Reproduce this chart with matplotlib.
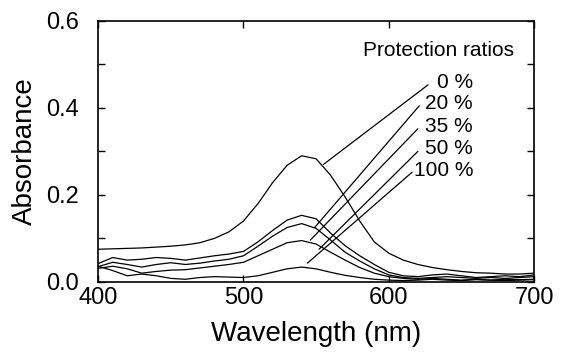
import matplotlib
matplotlib.use("Agg")
import matplotlib.pyplot as plt
from matplotlib.ticker import MultipleLocator, FormatStrFormatter

plt.rcParams['font.family'] = ['Liberation Sans', 'DejaVu Sans']

wavelength = [400, 410, 420, 430, 440, 450, 460, 470, 480, 490,
              500, 510, 520, 530, 540, 550, 560, 570, 580, 590,
              600, 610, 620, 630, 640, 650, 660, 670, 680, 690, 700]

abs_0 = [0.075, 0.076, 0.077, 0.078, 0.080, 0.082, 0.085, 0.090, 0.100, 0.115,
         0.140, 0.180, 0.228, 0.268, 0.290, 0.283, 0.245, 0.195, 0.140, 0.092,
         0.066, 0.050, 0.040, 0.033, 0.028, 0.024, 0.021, 0.020, 0.018, 0.018, 0.020]
abs_20 = [0.042, 0.056, 0.050, 0.052, 0.056, 0.054, 0.050, 0.055, 0.060, 0.064,
          0.070, 0.092, 0.118, 0.142, 0.153, 0.145, 0.112, 0.083, 0.060, 0.040,
          0.022, 0.014, 0.012, 0.016, 0.018, 0.014, 0.010, 0.012, 0.014, 0.012, 0.016]
abs_35 = [0.035, 0.045, 0.040, 0.034, 0.040, 0.044, 0.040, 0.043, 0.048, 0.052,
          0.060, 0.082, 0.105, 0.125, 0.134, 0.123, 0.096, 0.068, 0.048, 0.030,
          0.016, 0.010, 0.008, 0.010, 0.012, 0.010, 0.008, 0.010, 0.008, 0.010, 0.012]
abs_50 = [0.031, 0.036, 0.030, 0.020, 0.024, 0.027, 0.028, 0.032, 0.036, 0.040,
          0.045, 0.060, 0.075, 0.090, 0.095, 0.087, 0.068, 0.050, 0.033, 0.020,
          0.012, 0.008, 0.006, 0.008, 0.006, 0.004, 0.006, 0.004, 0.006, 0.005, 0.006]
abs_100 = [0.036, 0.026, 0.014, 0.018, 0.014, 0.008, 0.006, 0.010, 0.012, 0.011,
           0.010, 0.014, 0.022, 0.030, 0.034, 0.030, 0.022, 0.015, 0.010, 0.006,
           0.004, 0.003, 0.004, 0.006, 0.004, 0.003, 0.005, 0.004, 0.003, 0.004, 0.005]

labels = ['0 %', '20 %', '35 %', '50 %', '100 %']
label_y = [0.458, 0.410, 0.357, 0.307, 0.256]
leader_start = [(627, 0.453), (621, 0.405), (620, 0.352), (620, 0.300), (616, 0.252)]
leader_end = [(555, 0.270), (549, 0.125), (546, 0.096), (552, 0.075), (544, 0.043)]

fig = plt.figure(figsize=(5.61, 3.55), dpi=100)
ax = fig.add_axes([0.175, 0.206, 0.777, 0.735])

for series in [abs_0, abs_20, abs_35, abs_50, abs_100]:
    ax.plot(wavelength, series, color='black', lw=0.9)

for lab, y, s, e in zip(labels, label_y, leader_start, leader_end):
    ax.text(658, y, lab, ha='right', va='center', fontsize=15)
    ax.annotate('', xy=e, xytext=s,
                arrowprops=dict(arrowstyle='-', color='black', lw=0.9,
                                shrinkA=0, shrinkB=0))

ax.text(686, 0.531, 'Protection ratios', ha='right', va='center', fontsize=15)

ax.set_xlim(400, 700)
ax.set_ylim(0, 0.6)
ax.set_xticks([400, 500, 600, 700])
ax.yaxis.set_major_locator(MultipleLocator(0.2))
ax.yaxis.set_minor_locator(MultipleLocator(0.1))
ax.yaxis.set_major_formatter(FormatStrFormatter('%.1f'))
ax.tick_params(which='both', direction='in', top=True, right=True,
               length=5, width=1, labelsize=17, pad=4)
ax.tick_params(axis='y', which='major', pad=14)
ax.set_xlabel('Wavelength (nm)', fontsize=20, labelpad=8)
ax.set_ylabel('Absorbance', fontsize=20, labelpad=6)
for sp in ax.spines.values():
    sp.set_linewidth(1.2)

fig.savefig('out.png', dpi=100)
